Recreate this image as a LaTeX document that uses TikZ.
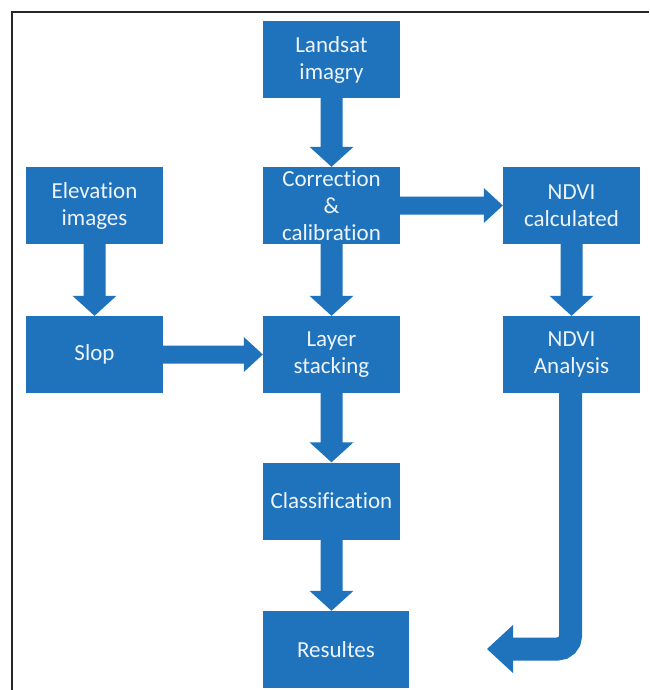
\documentclass[tikz,border=0pt]{standalone}
\usepackage{fontspec}
\setmainfont{Carlito}[Ligatures={NoCommon}]
\usetikzlibrary{calc}
\definecolor{boxblue}{RGB}{31,114,188}
\definecolor{boxtext}{RGB}{238,244,251}
\newcommand\vArrowBlk[2]{%
  \fill[boxblue] ($(#1.south)+(-11pt,1pt)$) -- ($(#1.south |- #2.north)+(-11pt,20pt)$)
    -- ($(#1.south |- #2.north)+(-22pt,20pt)$) -- (#1.south |- #2.north)
    -- ($(#1.south |- #2.north)+(22pt,20pt)$) -- ($(#1.south |- #2.north)+(11pt,20pt)$)
    -- ($(#1.south)+(11pt,1pt)$) -- cycle;}
\newcommand\hArrowBlk[2]{%
  \fill[boxblue] ($(#1.east)+(-1pt,9pt)$) -- ($(#1.east -| #2.west)+(-19pt,9pt)$)
    -- ($(#1.east -| #2.west)+(-19pt,17.5pt)$) -- (#1.east -| #2.west)
    -- ($(#1.east -| #2.west)+(-19pt,-17.5pt)$) -- ($(#1.east -| #2.west)+(-19pt,-9pt)$)
    -- ($(#1.east)+(-1pt,-9pt)$) -- cycle;}
\begin{document}
\begin{tikzpicture}[x=1pt,y=1pt,
  box/.style={fill=boxblue, minimum width=137pt, minimum height=77pt, inner sep=0pt,
    text=boxtext, align=center, font=\fontsize{23}{27}\selectfont}]
\useasboundingbox (0,0) rectangle (649,-690);
\fill[white] (0,0) rectangle (649,-690);
% frame
\draw[line width=1.6pt, black!85] (12,-690) -- (12,-12) -- (649,-12);
% nodes
\node[box] (land) at (331.5,-60) {Landsat\\imagry};
\node[box] (corr) at (331.5,-205.5) {Correction\\\&\\calibration};
\node[box] (ndvic) at (571.5,-205.5) {NDVI\\calculated};
\node[box] (elev) at (94.5,-205.5) {Elevation\\images};
\node[box] (slop) at (94.5,-354.5) {Slop};
\node[box] (layer) at (331.5,-354.5) {Layer\\stacking};
\node[box] (ndvia) at (571.5,-354.5) {NDVI\\Analysis};
\node[box] (class) at (331.5,-501) {Classification};
\node[box, minimum width=146pt] (res) at (336,-649.5) {Resultes};
\coordinate (ctip) at (487,-649);
% arrows
\vArrowBlk{land}{corr}
\vArrowBlk{corr}{layer}
\vArrowBlk{elev}{slop}
\vArrowBlk{layer}{class}
\vArrowBlk{class}{res}
\vArrowBlk{ndvic}{ndvia}
\hArrowBlk{corr}{ndvic}
\hArrowBlk{slop}{layer}
% curved arrow
\draw[boxblue, line width=23pt, rounded corners=13pt] ($(ndvia.south)+(-1pt,1pt)$) |- ($(ctip)+(24pt,0)$);
\fill[boxblue] (ctip) -- ($(ctip)+(26pt,24pt)$) -- ($(ctip)+(26pt,-24pt)$) -- cycle;
\end{tikzpicture}
\end{document}
